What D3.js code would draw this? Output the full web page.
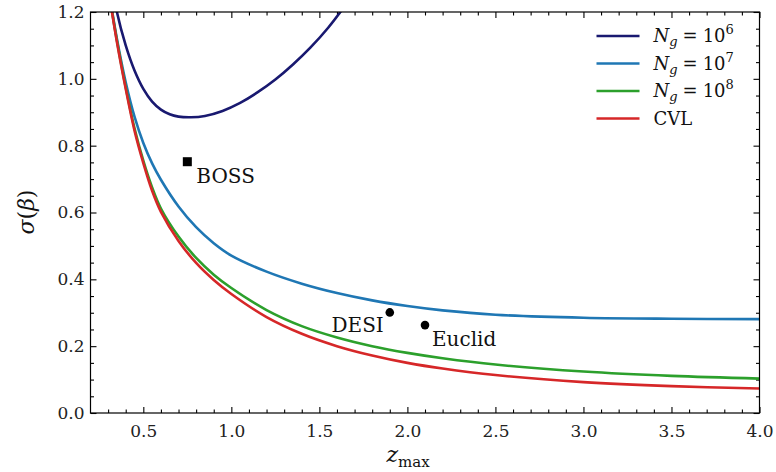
<!DOCTYPE html>
<html>
<head>
<meta charset="utf-8">
<script src="https://cdn.jsdelivr.net/npm/d3@7"></script>
<style>
  body { margin: 0; background: #fff; }
  svg { display: block; font-family: 'DejaVu Serif', serif; }
</style>
</head>
<body>
<svg width="776" height="472"></svg>
<script>
// z 網格 (三條較低的曲線共用)
const zGrid = [0.31, 0.35, 0.4, 0.45, 0.5, 0.55, 0.6, 0.7, 0.8, 0.9, 1.0, 1.2, 1.4, 1.6, 1.8, 2.0, 2.2, 2.5, 3.0, 3.5, 4.0];
const sigmaNg7 = [1.245, 1.12, 0.99, 0.887, 0.808, 0.747, 0.698, 0.618, 0.556, 0.508, 0.471, 0.423, 0.387, 0.359, 0.337, 0.320, 0.307, 0.294, 0.285, 0.282, 0.281];
const sigmaNg8 = [1.24, 1.115, 0.975, 0.852, 0.755, 0.675, 0.612, 0.528, 0.464, 0.414, 0.374, 0.308, 0.260, 0.226, 0.200, 0.180, 0.164, 0.145, 0.124, 0.111, 0.103];
const sigmaCVL = [1.24, 1.11, 0.97, 0.845, 0.748, 0.665, 0.602, 0.515, 0.449, 0.398, 0.356, 0.287, 0.237, 0.200, 0.172, 0.150, 0.133, 0.1135, 0.0925, 0.0805, 0.0735];

// N_g = 10^6 自己的網格
const zNg6 = [0.33, 0.35, 0.4, 0.45, 0.5, 0.55, 0.6, 0.65, 0.7, 0.77, 0.85, 0.95, 1.05, 1.15, 1.25, 1.35, 1.45, 1.55, 1.65, 1.7];
const sigmaNg6 = [1.26, 1.2, 1.1, 1.025, 0.97, 0.932, 0.908, 0.894, 0.887, 0.885, 0.889, 0.904, 0.928, 0.96, 0.998, 1.043, 1.094, 1.153, 1.222, 1.26];

// 巡天標記
const surveyNames = ['BOSS', 'DESI', 'Euclid'];
const surveyZ = [0.75, 1.90, 2.10];
const surveySigma = [0.752, 0.301, 0.263];

const seriesLabels = ['6', '7', '8', 'CVL'];
const seriesColors = ['#191970', '#1f77b4', '#2ca02c', '#d62728'];

const xTicks = [0.5, 1.0, 1.5, 2.0, 2.5, 3.0, 3.5, 4.0];
const yTicks = [0.0, 0.2, 0.4, 0.6, 0.8, 1.0, 1.2];

function render() {
    const svg = d3.select('svg');
    const margin = { top: 12, right: 16.5, bottom: 59, left: 90.5 };
    const width = 776 - margin.left - margin.right;
    const height = 472 - margin.top - margin.bottom;

    const x = d3.scaleLinear().domain([0.2, 4.0]).range([0, width]);
    const y = d3.scaleLinear().domain([0, 1.2]).range([height, 0]);

    const g = svg.append('g').attr('transform', `translate(${margin.left},${margin.top})`);

    g.append('clipPath').attr('id', 'clip')
        .append('rect').attr('width', width).attr('height', height);

    // 主要 / 次要刻度 (朝內)
    const xMinor = d3.range(3, 41).map(d => d / 10).filter(d => Math.abs(d * 2 - Math.round(d * 2)) > 1e-6);
    const yMinor = d3.range(1, 24).map(d => d / 20).filter(d => Math.abs(d * 5 - Math.round(d * 5)) > 1e-6);
    const fmt = d3.format('.1f');

    function styleAxis(sel) {
        sel.select('.domain').remove();
        sel.selectAll('line').attr('stroke', '#000').attr('stroke-width', 1.1);
        sel.selectAll('text').attr('fill', '#222').style('font-size', '17px').style('font-family', "'DejaVu Serif', serif");
    }

    g.append('g').attr('transform', `translate(0,${height})`)
        .call(d3.axisBottom(x).tickValues(xTicks).tickFormat(fmt).tickSize(-6).tickSizeOuter(0).tickPadding(12))
        .call(styleAxis);
    g.append('g').attr('transform', `translate(0,${height})`)
        .call(d3.axisBottom(x).tickValues(xMinor).tickFormat('').tickSize(-3.5).tickSizeOuter(0))
        .call(styleAxis);
    g.append('g')
        .call(d3.axisTop(x).tickValues(xTicks).tickFormat('').tickSize(-6).tickSizeOuter(0))
        .call(styleAxis);
    g.append('g')
        .call(d3.axisTop(x).tickValues(xMinor).tickFormat('').tickSize(-3.5).tickSizeOuter(0))
        .call(styleAxis);

    g.append('g')
        .call(d3.axisLeft(y).tickValues(yTicks).tickFormat(fmt).tickSize(-6).tickSizeOuter(0).tickPadding(6))
        .call(styleAxis);
    g.append('g')
        .call(d3.axisLeft(y).tickValues(yMinor).tickFormat('').tickSize(-3.5).tickSizeOuter(0))
        .call(styleAxis);
    g.append('g').attr('transform', `translate(${width},0)`)
        .call(d3.axisRight(y).tickValues(yTicks).tickFormat('').tickSize(-6).tickSizeOuter(0))
        .call(styleAxis);
    g.append('g').attr('transform', `translate(${width},0)`)
        .call(d3.axisRight(y).tickValues(yMinor).tickFormat('').tickSize(-3.5).tickSizeOuter(0))
        .call(styleAxis);

    // 曲線
    const line = d3.line()
        .x(d => x(d[0]))
        .y(d => y(d[1]))
        .curve(d3.curveCatmullRom.alpha(0.5));

    const series = [
        d3.zip(zNg6, sigmaNg6),
        d3.zip(zGrid, sigmaNg7),
        d3.zip(zGrid, sigmaNg8),
        d3.zip(zGrid, sigmaCVL)
    ];

    const curves = g.append('g').attr('clip-path', 'url(#clip)');
    // 依序畫, 讓紅線在最上面
    series.forEach((s, i) => {
        curves.append('path')
            .datum(s)
            .attr('d', line)
            .attr('fill', 'none')
            .attr('stroke', seriesColors[i])
            .attr('stroke-width', 2.6);
    });

    // 巡天點
    const pts = surveyNames.map((name, i) => ({ name, z: surveyZ[i], s: surveySigma[i] }));
    g.append('rect')
        .attr('x', x(pts[0].z) - 4.5)
        .attr('y', y(pts[0].s) - 4.5)
        .attr('width', 9).attr('height', 9)
        .attr('fill', '#000');
    g.selectAll('circle.survey')
        .data(pts.slice(1))
        .enter()
        .append('circle')
        .attr('class', 'survey')
        .attr('cx', d => x(d.z))
        .attr('cy', d => y(d.s))
        .attr('r', 4.3)
        .attr('fill', '#000');

    const labelOffset = [[9, 21, 'start'], [-6, 20, 'end'], [7, 21, 'start']];
    g.selectAll('text.survey')
        .data(pts)
        .enter()
        .append('text')
        .attr('class', 'survey')
        .attr('x', (d, i) => x(d.z) + labelOffset[i][0])
        .attr('y', (d, i) => y(d.s) + labelOffset[i][1])
        .attr('text-anchor', (d, i) => labelOffset[i][2])
        .style('font-size', '20px')
        .attr('fill', '#111')
        .text(d => d.name);

    // 外框
    g.append('rect')
        .attr('width', width).attr('height', height)
        .attr('fill', 'none').attr('stroke', '#000').attr('stroke-width', 1.2);

    // 圖例
    const legend = g.append('g').attr('transform', `translate(${width - 163},${24})`);
    seriesLabels.forEach((lab, i) => {
        const row = legend.append('g').attr('transform', `translate(0,${i * 27.5})`);
        row.append('line')
            .attr('x1', 0).attr('x2', 43)
            .attr('stroke', seriesColors[i]).attr('stroke-width', 2.6);
        const t = row.append('text').attr('x', 57).attr('y', 6).style('font-size', '18px').attr('fill', '#111');
        if (lab === 'CVL') {
            t.text('CVL');
        } else {
            t.append('tspan').style('font-style', 'italic').text('N');
            t.append('tspan').style('font-style', 'italic').style('font-size', '13px').attr('dy', 4).text('g');
            t.append('tspan').attr('dy', -4).attr('dx', 5).text('=');
            t.append('tspan').attr('dx', 5).text('10');
            t.append('tspan').style('font-size', '13px').attr('dy', -8).text(lab);
        }
    });

    // 軸標籤
    const xl = svg.append('text')
        .attr('x', 408).attr('y', 462)
        .attr('text-anchor', 'middle')
        .attr('fill', '#111');
    xl.append('tspan').style('font-style', 'italic').style('font-size', '22px').text('z');
    xl.append('tspan').style('font-size', '15px').attr('dy', 5).text('max');

    svg.append('text')
        .attr('transform', 'translate(34,212) rotate(-90)')
        .attr('text-anchor', 'middle')
        .style('font-size', '22px')
        .attr('fill', '#111')
        .html('<tspan font-style="italic">σ</tspan>(<tspan font-style="italic">β</tspan>)');
}

render();
</script>
</body>
</html>
